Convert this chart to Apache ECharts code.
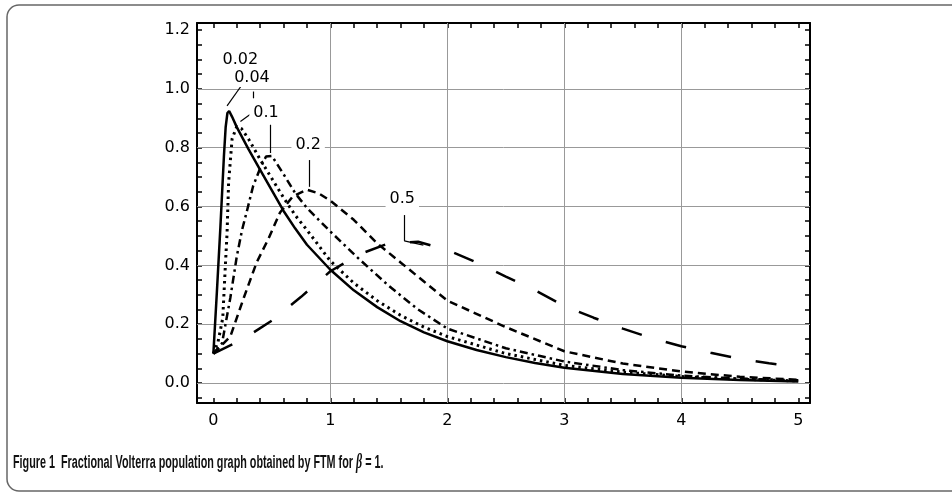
<!DOCTYPE html>
<html>
<head>
<meta charset="utf-8">
<script src="https://cdn.jsdelivr.net/npm/echarts@6/dist/echarts.min.js"></script>
<style>
html, body { margin: 0; padding: 0; background: #fff; }
#chart { width: 952px; height: 492px; }
</style>
</head>
<body>
<div id="chart"></div>
<script>
// tick labels
var xTickLabels = [0, 1, 2, 3, 4, 5];
var yTickLabels = [0, 0.2, 0.4, 0.6, 0.8, 1.0, 1.2];

// curve 0.02 (solid)
var x002 = [0, 0.03, 0.06, 0.09, 0.105, 0.12, 0.135, 0.16, 0.2, 0.3, 0.4, 0.5, 0.6, 0.7, 0.8, 1.0, 1.2, 1.4, 1.6, 1.8, 2.0, 2.25, 2.5, 2.75, 3.0, 3.5, 4.0, 4.5, 5.0];
var y002 = [0.1, 0.31, 0.53, 0.77, 0.87, 0.918, 0.925, 0.905, 0.87, 0.795, 0.725, 0.655, 0.585, 0.525, 0.47, 0.385, 0.315, 0.258, 0.21, 0.172, 0.142, 0.112, 0.088, 0.068, 0.052, 0.031, 0.018, 0.01, 0.005];

// curve 0.04 (dotted)
var x004 = [0, 0.04, 0.08, 0.1, 0.117, 0.13, 0.16, 0.2, 0.24, 0.3, 0.4, 0.5, 0.6, 0.7, 0.8, 1.0, 1.2, 1.4, 1.6, 1.8, 2.0, 2.5, 3.0, 3.5, 4.0, 4.5, 5.0];
var y004 = [0.1, 0.14, 0.22, 0.38, 0.51, 0.68, 0.83, 0.872, 0.865, 0.83, 0.76, 0.695, 0.63, 0.57, 0.52, 0.415, 0.34, 0.28, 0.23, 0.19, 0.158, 0.1, 0.06, 0.037, 0.022, 0.013, 0.007];

// curve 0.1 (dash-dot)
var x01 = [0, 0.074, 0.145, 0.2, 0.245, 0.29, 0.34, 0.4, 0.45, 0.5, 0.6, 0.7, 0.8, 0.9, 1.0, 1.25, 1.5, 1.75, 2.0, 2.5, 3.0, 3.5, 4.0, 4.5, 5.0];
var y01 = [0.1, 0.135, 0.29, 0.43, 0.52, 0.59, 0.67, 0.73, 0.77, 0.772, 0.71, 0.645, 0.595, 0.555, 0.515, 0.42, 0.33, 0.25, 0.185, 0.118, 0.073, 0.044, 0.025, 0.015, 0.009];

// curve 0.2 (dashed)
var x02 = [0, 0.145, 0.26, 0.37, 0.47, 0.57, 0.68, 0.8, 0.9, 1.0, 1.2, 1.4, 1.6, 1.8, 2.0, 2.5, 3.0, 3.5, 4.0, 4.5, 5.0];
var y02 = [0.1, 0.158, 0.29, 0.41, 0.49, 0.58, 0.635, 0.657, 0.645, 0.62, 0.555, 0.475, 0.41, 0.345, 0.28, 0.19, 0.108, 0.066, 0.039, 0.021, 0.011];

// curve 0.5 (long dash)
var x05 = [0, 0.25, 0.5, 0.75, 1.0, 1.25, 1.5, 1.75, 2.0, 2.25, 2.5, 2.75, 3.0, 3.25, 3.5, 3.75, 4.0, 4.25, 4.5, 4.75, 5.0];
var y05 = [0.1, 0.148, 0.212, 0.293, 0.38, 0.438, 0.475, 0.48, 0.452, 0.41, 0.362, 0.315, 0.262, 0.222, 0.185, 0.152, 0.125, 0.103, 0.082, 0.067, 0.055];

// curve labels and their leader lines
var curveLabels = ['0.02', '0.04', '0.1', '0.2', '0.5'];
var labelPos = [[0.23, 1.10], [0.33, 1.037], [0.45, 0.92], [0.81, 0.81], [1.615, 0.626]];
var leaders = [
    [[0.245, 1.014], [0.117, 0.942]],
    [[0.342, 0.991], [0.342, 0.968]],
    [[0.331, 0.918], [0.231, 0.889]],
    [[0.487, 0.878], [0.487, 0.782]],
    [[0.82, 0.758], [0.82, 0.667]],
    [[1.632, 0.571], [1.632, 0.483]],
    [[1.632, 0.483], [1.795, 0.469]]
];

function pairs(xs, ys) {
    var out = [];
    xs.forEach(function (x, i) { out.push([x, ys[i]]); });
    return out;
}
function steps(from, to, step) {
    var out = [];
    for (var v = from; v <= to + 1e-9; v += step) out.push(Math.round(v * 1000) / 1000);
    return out;
}

var FONT = 'DejaVu Sans';
var xMinor = steps(0, 5, 0.2);
var yMinor = steps(-0.05, 1.2, 0.05);

function xAxisOpt(pos, showLabel) {
    return {
        type: 'value', position: pos, min: -0.14, max: 5.1,
        axisLine: {show: true, onZero: false, lineStyle: {color: '#000', width: 2}},
        axisTick: {show: true, inside: true, length: 5, customValues: xMinor, lineStyle: {color: '#000', width: 1.5}},
        axisLabel: {show: showLabel, customValues: xTickLabels, color: '#000', fontFamily: FONT, fontSize: 16, margin: 10},
        splitLine: {show: false}
    };
}
function yAxisOpt(pos, showLabel) {
    return {
        type: 'value', position: pos, min: -0.068, max: 1.224,
        axisLine: {show: true, onZero: false, lineStyle: {color: '#000', width: 2}},
        axisTick: {show: true, inside: true, length: 5, customValues: yMinor, lineStyle: {color: '#000', width: 1.5}},
        axisLabel: {show: showLabel, customValues: yTickLabels, color: '#000', fontFamily: FONT, fontSize: 16, margin: 7,
            formatter: function (v) { return v.toFixed(1); }},
        splitLine: {show: false}
    };
}

function curve(name, xs, ys, dash, width) {
    return {
        name: name, type: 'line', data: pairs(xs, ys), showSymbol: false, z: 3,
        lineStyle: {color: '#000', width: width, type: dash},
        emphasis: {disabled: true}
    };
}

// grid lines
var gridLines = [];
[1, 2, 3, 4].forEach(function (v) { gridLines.push({xAxis: v}); });
[0, 0.2, 0.4, 0.6, 0.8, 1.0].forEach(function (v) { gridLines.push({yAxis: v}); });

// page frame: only top and left edges fall inside the picture
var frameStyle = {fill: 'none', stroke: '#666', lineWidth: 1.5};
var frame = [
    {type: 'polyline', silent: true, shape: {points: [[19, 5], [960, 5]]}, style: frameStyle},
    {type: 'polyline', silent: true, shape: {points: [[7, 17], [7, 479]]}, style: frameStyle},
    {type: 'polyline', silent: true, shape: {points: [[19, 491], [960, 491]]}, style: frameStyle},
    {type: 'arc', silent: true, shape: {cx: 19, cy: 17, r: 12, startAngle: Math.PI, endAngle: Math.PI * 1.5}, style: frameStyle},
    {type: 'arc', silent: true, shape: {cx: 19, cy: 479, r: 12, startAngle: Math.PI * 0.5, endAngle: Math.PI}, style: frameStyle}
];

var chart = echarts.init(document.getElementById('chart'), null, {renderer: 'canvas'});
chart.setOption({
    animation: false,
    backgroundColor: '#fff',
    grid: {left: 197, right: 142, top: 23, bottom: 89},
    xAxis: [xAxisOpt('bottom', true), xAxisOpt('top', false)],
    yAxis: [yAxisOpt('left', true), yAxisOpt('right', false)],
    graphic: frame.concat([
        {type: 'text', x: 13, y: 463, scaleX: 0.6, silent: true,
            style: {
                text: 'Figure 1  Fractional Volterra population graph obtained by FTM for {b|β} = 1.',
                font: 'bold 18px "Liberation Sans"', fill: '#111', textVerticalAlign: 'middle',
                rich: {b: {fontStyle: 'italic', fontWeight: 'bold', fontSize: 20, fontFamily: 'Liberation Serif', fill: '#111'}}
            }}
    ]),
    series: [
        {
            name: 'grid', type: 'line', data: [], silent: true,
            markLine: {
                silent: true, z: 1, symbol: ['none', 'none'], label: {show: false},
                lineStyle: {color: '#999', width: 1, type: 'solid'},
                emphasis: {disabled: true},
                data: gridLines
            }
        },
        curve('0.02', x002, y002, 'solid', 2.5),
        curve('0.04', x004, y004, [2.5, 4], 3),
        curve('0.1', x01, y01, [8, 4, 2.5, 4], 2.5),
        curve('0.2', x02, y02, [8, 5], 2.5),
        curve('0.5', x05, y05, [21, 25], 2.5),
        {
            name: 'labels', type: 'line', data: [], silent: true,
            markLine: {
                silent: true, z: 4, symbol: ['none', 'none'], label: {show: false},
                lineStyle: {color: '#000', width: 1.2, type: 'solid'},
                emphasis: {disabled: true},
                data: leaders.map(function (l) { return [{coord: l[0]}, {coord: l[1]}]; })
            },
            markPoint: {
                silent: true, z: 5, symbol: 'circle', symbolSize: 0,
                label: {show: true, position: 'inside', color: '#000', fontFamily: FONT, fontSize: 16,
                    backgroundColor: '#fff', padding: [1, 4],
                    formatter: function (p) { return p.name; }},
                data: curveLabels.map(function (t, i) { return {name: t, coord: labelPos[i]}; })
            }
        }
    ]
});
</script>
</body>
</html>
